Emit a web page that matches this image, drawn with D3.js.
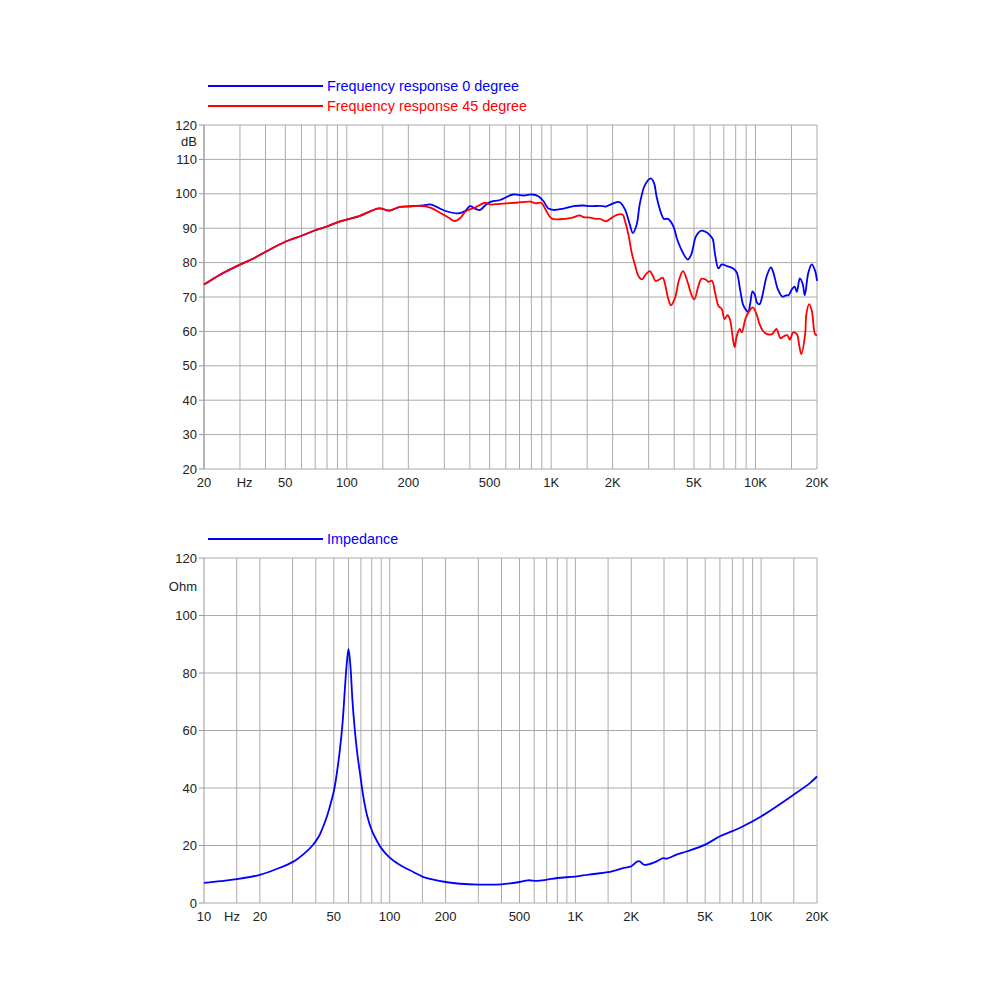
<!DOCTYPE html>
<html>
<head>
<meta charset="utf-8">
<script src="https://cdn.jsdelivr.net/npm/d3@7/dist/d3.min.js"></script>
<style>
  body { margin: 0; background: #fff; }
  svg { font-family: "Liberation Sans", Arial, sans-serif; }
  .grid line { stroke: #aaa; stroke-width: 1; }
  .axis-label { font-size: 13px; fill: #222; }
  .legend-text { font-size: 14.4px; }
</style>
</head>
<body>
<div id="chart"></div>
<script>
// grid frequencies (both panels)
const gridFreqs = [15, 20, 30, 40, 50, 60, 70, 80, 90, 100, 150, 200, 300, 400, 500, 600, 700, 800, 900,
  1000, 1500, 2000, 3000, 4000, 5000, 6000, 7000, 8000, 9000, 10000, 15000, 20000];

const freqLabelsTop = [[20, "20"], [50, "50"], [100, "100"], [200, "200"], [500, "500"], [1000, "1K"],
  [2000, "2K"], [5000, "5K"], [10000, "10K"], [20000, "20K"]];
const freqLabelsBottom = [[10, "10"], [20, "20"], [50, "50"], [100, "100"], [200, "200"], [500, "500"],
  [1000, "1K"], [2000, "2K"], [5000, "5K"], [10000, "10K"], [20000, "20K"]];

const dbTicks = [20, 30, 40, 50, 60, 70, 80, 90, 100, 110, 120];
const ohmTicks = [0, 20, 40, 60, 80, 100, 120];

// frequency response 0 degree [Hz, dB]
const response0 = [
  [20, 73.6], [23.5, 76.2], [30, 79.4], [34.7, 81.1], [40.5, 83.3], [50.6, 86.2], [60, 87.8], [70, 89.4],
  [80, 90.5], [90, 91.7], [100, 92.5], [116, 93.6], [130, 94.9], [141, 95.7], [148, 95.7], [161, 95.1],
  [182, 96.2], [205, 96.4], [237, 96.6], [256, 96.9], [275, 96.2], [304, 95.0], [352, 94.3], [379, 95.0],
  [401, 96.4], [424, 95.7], [449, 95.3], [475, 96.6], [502, 97.6], [562, 98.2], [651, 99.8], [731, 99.5],
  [806, 99.8], [865, 99.3], [916, 97.9], [970, 95.7], [1030, 95.3], [1150, 95.7], [1290, 96.4], [1440, 96.6],
  [1550, 96.4], [1735, 96.5], [1850, 96.3], [1940, 96.8], [2100, 97.6], [2174, 97.5], [2300, 95.4],
  [2420, 91.3], [2510, 88.6], [2620, 91.0], [2720, 97.3], [2880, 102.6], [3074, 104.5], [3190, 103.1],
  [3280, 99.2], [3450, 94.4], [3560, 92.7], [3730, 92.7], [3960, 90.6], [4140, 86.7], [4420, 82.8],
  [4660, 80.9], [4850, 82.4], [5120, 87.7], [5440, 89.3], [5760, 88.8], [6030, 87.7], [6180, 86.8],
  [6340, 82.4], [6590, 78.3], [6840, 79.5], [7240, 79.0], [7780, 78.3], [8100, 77.1], [8400, 72.3],
  [8680, 67.9], [8920, 66.5], [9200, 65.7], [9410, 67.9], [9670, 71.6], [9900, 70.8], [10200, 68.2],
  [10470, 67.9], [10800, 70.3], [11350, 76.1], [11900, 78.6], [12230, 77.1], [12860, 72.3], [13540, 70.1],
  [14100, 70.5], [14490, 70.5], [15100, 72.3], [15550, 73.0], [15930, 71.5], [16480, 75.4], [17040, 73.7],
  [17420, 70.5], [18150, 77.1], [18860, 79.5], [19580, 77.6], [20000, 74.7]
];

// frequency response 45 degree [Hz, dB]
const response45 = [
  [20, 73.6], [23.5, 76.2], [30, 79.4], [34.7, 81.1], [40.5, 83.3], [50.6, 86.2], [60, 87.8], [70, 89.4],
  [80, 90.5], [90, 91.7], [100, 92.5], [116, 93.6], [130, 94.9], [141, 95.7], [148, 95.7], [161, 95.1],
  [182, 96.2], [205, 96.3], [228, 96.5], [256, 96.0], [286, 94.5], [314, 93.1], [338, 92.1], [357, 92.8],
  [383, 95.0], [424, 96.0], [475, 97.4], [502, 96.9], [562, 97.1], [676, 97.4], [788, 97.7], [842, 97.2],
  [894, 97.4], [947, 95.0], [1005, 92.8], [1100, 92.6], [1260, 93.0], [1380, 93.7], [1440, 93.2],
  [1550, 93.1], [1670, 92.7], [1735, 92.7], [1850, 92.0], [1940, 92.7], [2100, 93.9], [2240, 93.9],
  [2300, 92.0], [2390, 88.1], [2480, 82.8], [2580, 79.0], [2672, 76.1], [2790, 75.1], [2880, 76.3],
  [3040, 77.5], [3150, 76.1], [3250, 74.6], [3380, 75.1], [3520, 75.6], [3610, 73.7], [3730, 69.8],
  [3860, 67.6], [4040, 69.8], [4230, 75.1], [4420, 77.5], [4660, 74.2], [4850, 70.8], [5020, 69.3],
  [5254, 73.2], [5440, 75.3], [5700, 75.1], [5880, 74.4], [6120, 74.7], [6340, 71.3], [6590, 67.4],
  [6840, 66.5], [7050, 63.6], [7300, 64.7], [7490, 63.6], [7720, 58.7], [7900, 55.4], [8100, 58.7],
  [8370, 60.7], [8570, 59.7], [8920, 63.6], [9232, 65.5], [9700, 67.0], [10120, 65.0], [10470, 62.1],
  [10860, 60.2], [11400, 59.2], [12060, 59.2], [12660, 60.7], [13250, 58.0], [13760, 58.6], [14300, 58.9],
  [14740, 57.6], [15290, 59.7], [15930, 59.2], [16380, 55.8], [16750, 53.4], [17500, 59.2], [17740, 65.0],
  [18300, 67.9], [18860, 66.0], [19580, 59.2], [20000, 58.9]
];

// impedance [Hz, Ohm]
const impedance = [
  [10, 7.0], [12.3, 7.6], [15, 8.3], [20, 9.8], [24.8, 11.9], [30.3, 14.4], [34.5, 17.1], [38.4, 20.0],
  [41.6, 23.2], [43.1, 25.4], [45.9, 30.1], [48.7, 35.8], [50.4, 39.9], [52.2, 46.2], [53.9, 53.2],
  [55.7, 62.4], [57.3, 74.0], [58.5, 82.1], [60, 88.4], [61.5, 82.1], [63, 70.5], [64.9, 60.1],
  [66.9, 52.0], [69.2, 45.1], [72.1, 37.0], [75.8, 30.1], [80.5, 24.9], [86.7, 20.8], [90, 19.1],
  [100, 15.8], [113, 13.3], [134, 10.8], [150, 9.2], [172, 8.1], [200, 7.3], [239, 6.7], [300, 6.4],
  [400, 6.5], [500, 7.3], [556, 7.9], [620, 7.7], [700, 8.1], [800, 8.7], [1000, 9.2], [1180, 9.9],
  [1500, 10.7], [1830, 12.2], [2000, 12.8], [2150, 14.4], [2220, 14.5], [2350, 13.3], [2660, 14.1],
  [2970, 15.6], [3100, 15.4], [3500, 16.8], [4000, 18.0], [5000, 20.3], [6000, 23.2], [7000, 25.0],
  [8000, 26.7], [10000, 30.1], [15000, 37.7], [18300, 41.7], [20000, 44.0]
];

const svg = d3.select("#chart").append("svg")
  .attr("width", 1000)
  .attr("height", 1000);

svg.append("rect").attr("width", 1000).attr("height", 1000).attr("fill", "#fff");

function drawPanel(opts) {
  const x = d3.scaleLog().domain(opts.xDomain).range([204, 817]);
  const y = d3.scaleLinear().domain(opts.yDomain).range([opts.bottom, opts.top]);
  const g = svg.append("g");

  // vertical grid
  g.append("g").attr("class", "grid")
    .selectAll("line")
    .data(gridFreqs.filter(f => f >= opts.xDomain[0] && f <= opts.xDomain[1]))
    .enter().append("line")
    .attr("x1", d => x(d)).attr("x2", d => x(d))
    .attr("y1", opts.top).attr("y2", opts.bottom);

  // horizontal grid
  g.append("g").attr("class", "grid")
    .selectAll("line")
    .data(opts.yTicks)
    .enter().append("line")
    .attr("x1", 204).attr("x2", 817)
    .attr("y1", d => y(d)).attr("y2", d => y(d));

  // left axis line + small ticks
  g.append("line")
    .attr("x1", 204).attr("x2", 204)
    .attr("y1", opts.top).attr("y2", opts.bottom)
    .attr("stroke", "#999");
  g.selectAll(".ytick").data(opts.yTicks).enter().append("line")
    .attr("x1", 199).attr("x2", 204)
    .attr("y1", d => y(d)).attr("y2", d => y(d))
    .attr("stroke", "#999");

  g.selectAll(".ylab").data(opts.yTicks).enter().append("text")
    .attr("class", "axis-label")
    .attr("x", 197).attr("y", d => y(d) + 4.5)
    .attr("text-anchor", "end")
    .text(d => d);

  g.append("text").attr("class", "axis-label")
    .attr("x", 197).attr("y", opts.unitY)
    .attr("text-anchor", "end")
    .text(opts.unit);

  g.selectAll(".xlab").data(opts.xLabels).enter().append("text")
    .attr("class", "axis-label")
    .attr("x", d => x(d[0])).attr("y", opts.bottom + 18)
    .attr("text-anchor", "middle")
    .text(d => d[1]);

  // "Hz" between first two labels
  g.append("text").attr("class", "axis-label")
    .attr("x", x(Math.sqrt(opts.xLabels[0][0] * opts.xLabels[1][0])))
    .attr("y", opts.bottom + 18)
    .attr("text-anchor", "middle")
    .text("Hz");

  const line = d3.line()
    .x(d => x(d[0]))
    .y(d => y(d[1]))
    .curve(d3.curveCatmullRom.alpha(0.5));

  opts.series.forEach((s, i) => {
    g.append("path")
      .datum(s.data)
      .attr("fill", "none")
      .attr("stroke", s.color)
      .attr("stroke-width", 1.8)
      .attr("stroke-linejoin", "round")
      .attr("d", line);

    const ly = opts.legendY + i * 20;
    g.append("line")
      .attr("x1", 208).attr("x2", 323)
      .attr("y1", ly).attr("y2", ly)
      .attr("stroke", s.color).attr("stroke-width", 1.8);
    g.append("text").attr("class", "legend-text")
      .attr("x", 327).attr("y", ly + 5)
      .attr("fill", s.color)
      .text(s.name);
  });
}

drawPanel({
  xDomain: [20, 20000], yDomain: [20, 120], top: 125, bottom: 469,
  yTicks: dbTicks, unit: "dB", unitY: 146, xLabels: freqLabelsTop, legendY: 86,
  series: [
    { name: "Frequency response 0 degree", color: "#0000ff", data: response0 },
    { name: "Frequency response 45 degree", color: "#ff0000", data: response45 }
  ]
});

drawPanel({
  xDomain: [10, 20000], yDomain: [0, 120], top: 558, bottom: 903,
  yTicks: ohmTicks, unit: "Ohm", unitY: 591, xLabels: freqLabelsBottom, legendY: 539,
  series: [
    { name: "Impedance", color: "#0000ff", data: impedance }
  ]
});
</script>
</body>
</html>
